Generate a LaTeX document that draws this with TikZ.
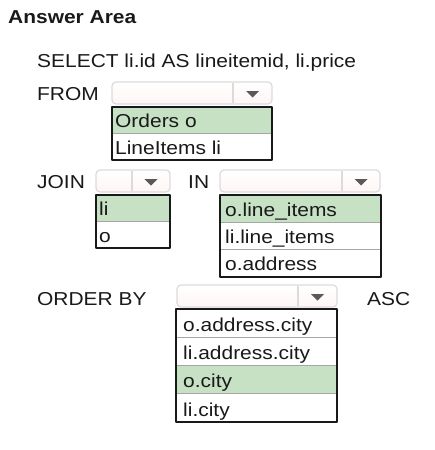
\documentclass[tikz,border=0pt]{standalone}
\usepackage{fontspec}
\setmainfont{Liberation Sans}[FakeStretch=1.12]
\definecolor{pickgreen}{RGB}{198,225,196}
\definecolor{inktext}{RGB}{25,25,25}
\begin{document}
\begin{tikzpicture}[x=1pt,y=-1pt,line join=round,font=\fontsize{18.7}{21}\selectfont,
	txt/.style={anchor=base west,inner sep=0pt,text=inktext},
	dropbox/.style={draw=black!14,line width=1.2pt,rounded corners=4pt,top color=white,bottom color=red!4},
	dropsep/.style={draw=black!14,line width=1.2pt},
	listbox/.style={draw=inktext,line width=1.3pt},
	rowsep/.style={draw=black!35,line width=.8pt},
	pick/.style={fill=pickgreen}]
	\useasboundingbox (0,0) rectangle (434,450);
	% keywords
	\node[txt,font=\fontsize{18.7}{21}\selectfont\bfseries] (ans) at (8,23) {Answer Area};
	\node[txt] (select) at (37,67) {SELECT li.id AS lineitemid, li.price};
	\node[txt] (from) at (37,100) {FROM};
	\node[txt] (join) at (37,188) {JOIN};
	\node[txt] (inkw) at (188,188) {IN};
	\node[txt] (orderby) at (37,305) {ORDER BY};
	\node[txt] (asc) at (367,305) {ASC};
	% empty drop-downs
	\foreach \xa/\xb/\xd/\ya in {112/272/233/82,96/170/132/170,220/380/342/170,177/337/298/285}{
		\draw[dropbox] (\xa,\ya) rectangle (\xb,\ya+22);
		\draw[dropsep] (\xd,\ya+1) -- (\xd,\ya+21);
		\fill[black!65] ({(\xd+\xb)/2-6.5},\ya+9) -- ++(13,0) -- ++(-6.5,6.5) -- cycle;
	}
	% opened lists, chosen row in green
	\foreach \nm/\xa/\xb/\dx/\ya/\h/\n/\p/\items in {
		fromlist/112/272/3/107/26.5/2/1/{Orders o,LineItems li},
		joinlist/96/170/3/195/26.5/2/1/{li,o},
		inlist/220/381/5/195/27.3/3/1/{o.line\_items,li.line\_items,o.address},
		orderlist/176/337/7/309/28.25/4/3/{o.address.city,li.address.city,o.city,li.city}}{
		\fill[pick] (\xa,{\ya+(\p-1)*\h}) rectangle (\xb,{\ya+\p*\h});
		\foreach \t [count=\i] in \items{
			\node[txt] (\nm-\i) at (\xa+\dx,{\ya+\i*\h-6}) {\t};
			\ifnum\i>1 \draw[rowsep] (\xa,{\ya+(\i-1)*\h}) -- (\xb,{\ya+(\i-1)*\h}); \fi
		}
		\draw[listbox] (\xa,\ya) rectangle (\xb,{\ya+\n*\h});
	}
\end{tikzpicture}
\end{document}
